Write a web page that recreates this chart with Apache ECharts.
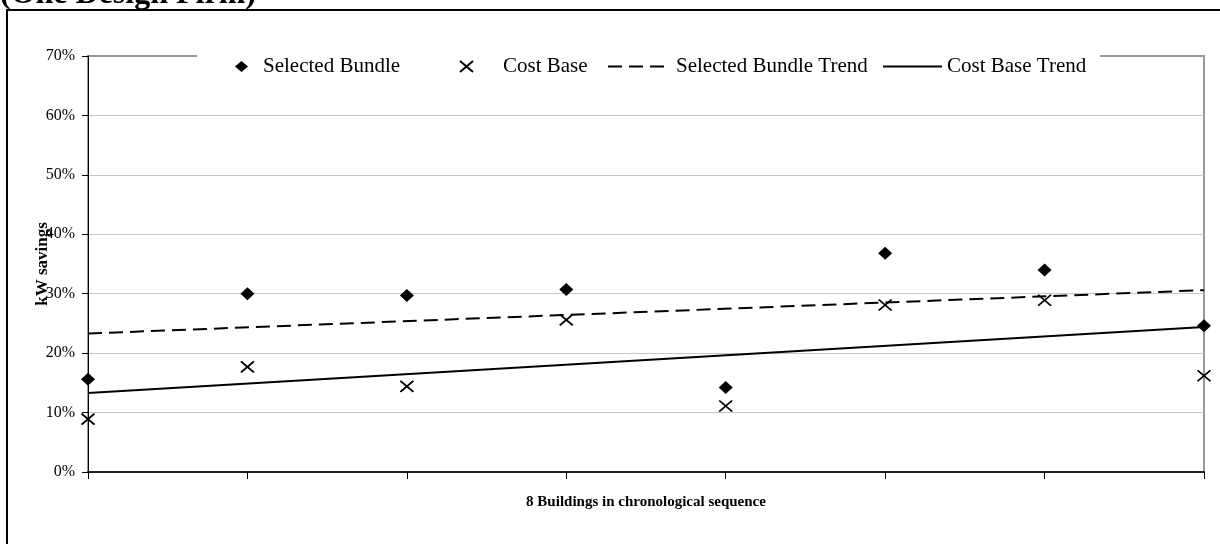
<!DOCTYPE html>
<html>
<head>
<meta charset="utf-8">
<title>kW savings</title>
<script src="https://cdn.jsdelivr.net/npm/echarts@6/dist/echarts.min.js"></script>
<style>
  html, body { margin: 0; padding: 0; background: #fff; }
  #chart { width: 1220px; height: 544px; }
</style>
</head>
<body>
<div id="chart"></div>
<script>
// Eight buildings, in the order they were built
const buildings = ['1', '2', '3', '4', '5', '6', '7', '8'];

// kW savings (%) per building
const selectedBundle = [15.6, 30.0, 29.7, 30.7, 14.2, 36.8, 34.0, 24.6];
const costBase = [8.9, 17.7, 14.4, 25.6, 11.1, 28.1, 28.9, 16.2];

// Linear trend lines: value at the first and at the last building
const selectedBundleTrend = [23.3, 30.6];
const costBaseTrend = [13.3, 24.4];

const yTicks = { min: 0, max: 70, step: 10 };

const SERIF = '"Liberation Serif", "Times New Roman", serif';
const last = buildings.length - 1;

const chart = echarts.init(document.getElementById('chart'), null, { renderer: 'canvas' });

const crossPath = 'path://M0,0L12,10M12,0L0,10';

// One legend per entry so each icon/text pair can sit where it belongs
function legendAt(left, width, height, name, pad, lineOnly) {
  const lg = {
    left: left,
    top: 56,
    padding: 0,
    itemWidth: width,
    itemHeight: height,
    data: [name],
    selectedMode: false,
    textStyle: { fontFamily: SERIF, fontSize: 21, color: '#000', padding: [0, 0, 0, pad] },
    z: 5
  };
  if (lineOnly) {
    // trend entries show only their line, no marker
    lg.itemStyle = { color: 'rgba(0,0,0,0)', borderColor: 'rgba(0,0,0,0)', borderWidth: 0 };
  }
  return lg;
}

chart.setOption({
  animation: false,
  backgroundColor: '#fff',
  textStyle: { fontFamily: SERIF },
  graphic: [
    {
      type: 'rect',
      shape: { x: 7, y: 10, width: 1240, height: 560 },
      style: { fill: 'none', stroke: '#000', lineWidth: 2 },
      silent: true,
      z: 0
    },
    {
      type: 'text',
      style: {
        text: '(One Design Firm)',
        x: 0,
        y: -5,
        verticalAlign: 'middle',
        font: 'bold 32px ' + SERIF,
        fill: '#000'
      },
      z: 1
    },
    {
      type: 'rect',
      shape: { x: 197, y: 46, width: 903, height: 34 },
      style: { fill: '#fff' },
      silent: true,
      z: 3
    }
  ],
  legend: [
    legendAt(235, 13, 11, 'Selected Bundle', 10, false),
    legendAt(459, 13, 11, 'Cost Base', 25, false),
    legendAt(607, 57, 14, 'Selected Bundle Trend', 6, true),
    legendAt(882, 59, 14, 'Cost Base Trend', 0, true)
  ],
  grid: {
    left: 88,
    right: 16,
    top: 56,
    bottom: 72,
    show: true,
    borderColor: '#999',
    borderWidth: 2,
    backgroundColor: '#fff'
  },
  xAxis: {
    type: 'category',
    data: buildings,
    boundaryGap: false,
    name: '8 Buildings in chronological sequence',
    nameLocation: 'middle',
    nameGap: 23,
    nameMoveOverlap: false,
    nameTextStyle: { fontFamily: SERIF, fontSize: 15, fontWeight: 'bold', color: '#000' },
    axisLine: { show: true, lineStyle: { color: '#222', width: 2 } },
    axisTick: { show: true, length: 7, interval: 0, lineStyle: { color: '#000', width: 1 } },
    axisLabel: { show: false },
    splitLine: { show: false }
  },
  yAxis: {
    type: 'value',
    min: yTicks.min,
    max: yTicks.max,
    interval: yTicks.step,
    name: 'kW savings',
    nameLocation: 'middle',
    nameRotate: 90,
    nameGap: 37,
    nameMoveOverlap: false,
    nameTextStyle: { fontFamily: SERIF, fontSize: 17, fontWeight: 'bold', color: '#000' },
    axisLine: { show: true, lineStyle: { color: '#000', width: 1 } },
    axisTick: { show: true, length: 6, lineStyle: { color: '#000', width: 1 } },
    axisLabel: {
      formatter: '{value}%',
      margin: 13,
      fontFamily: SERIF,
      fontSize: 16,
      color: '#000'
    },
    splitLine: { show: true, showMaxLine: false, lineStyle: { color: '#c6c6c6', width: 1 } }
  },
  series: [
    {
      name: 'Selected Bundle Trend',
      type: 'line',
      data: [[0, selectedBundleTrend[0]], [last, selectedBundleTrend[1]]],
      symbol: 'none',
      lineStyle: { color: '#000', width: 2, type: [14, 7] },
      itemStyle: { color: '#000' },
      z: 2
    },
    {
      name: 'Cost Base Trend',
      type: 'line',
      data: [[0, costBaseTrend[0]], [last, costBaseTrend[1]]],
      symbol: 'none',
      lineStyle: { color: '#000', width: 2, type: 'solid' },
      itemStyle: { color: '#000' },
      z: 2
    },
    {
      name: 'Selected Bundle',
      type: 'scatter',
      data: selectedBundle,
      symbol: 'diamond',
      symbolSize: [14, 13],
      itemStyle: { color: '#000', opacity: 1 },
      z: 4
    },
    {
      name: 'Cost Base',
      type: 'scatter',
      data: costBase,
      symbol: crossPath,
      symbolSize: [13, 11],
      itemStyle: { color: 'rgba(0,0,0,0)', borderColor: '#000', borderWidth: 1.8, opacity: 1 },
      z: 4
    }
  ]
});
</script>
</body>
</html>
